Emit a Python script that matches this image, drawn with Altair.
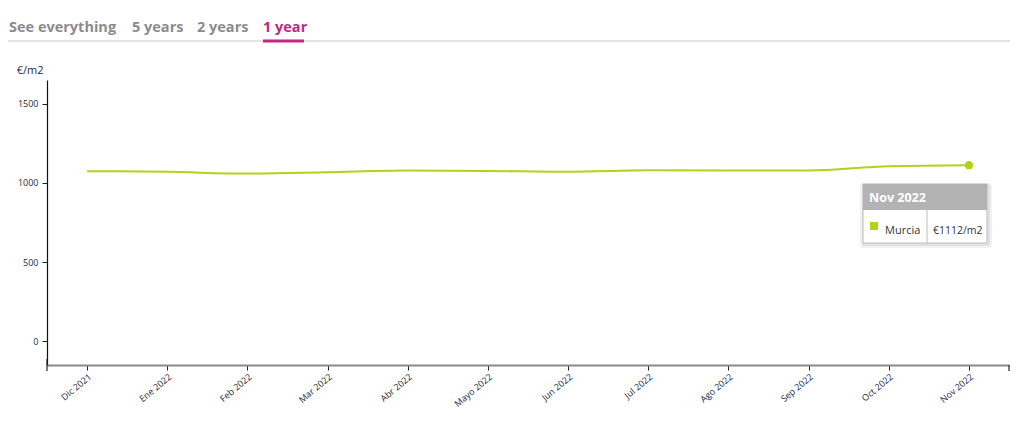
import altair as alt
import pandas as pd

months = ["Dic 2021", "Ene 2022", "Feb 2022", "Mar 2022", "Abr 2022", "Mayo 2022",
          "Jun 2022", "Jul 2022", "Ago 2022", "Sep 2022", "Oct 2022", "Nov 2022"]
prices = [1074, 1070, 1059, 1068, 1078, 1076, 1070, 1080, 1078, 1078, 1106, 1112]
region = "Murcia"
tabs = ["See everything", "5 years", "2 years", "1 year"]
tab_x = [-38, 85, 150, 216]
tab_colors = ["#8c8c8c", "#8c8c8c", "#8c8c8c", "#c2277f"]
y_ticks = [0, 500, 1000, 1500]

LINE = "#b5d21a"
FONT = "Open Sans"

df = pd.DataFrame({"month": months, "price": prices})
last = df.iloc[[-1]].copy()
last["label"] = "€" + last["price"].astype(str) + "/m2"
tabs_df = pd.DataFrame({"tab": tabs, "px": tab_x, "color": tab_colors})
one = pd.DataFrame({"k": [0]})

x_enc = alt.X("month:N", sort=months,
              scale=alt.Scale(type="point", padding=0.5),
              axis=alt.Axis(title=None, labelAngle=-40, labelFontSize=9, labelColor="#1c2a44",
                            labelFont=FONT, domainColor="#8a8a8a", domainWidth=2,
                            tickColor="#222222", tickSize=5, labelPadding=2, grid=False))
y_enc = alt.Y("price:Q", scale=alt.Scale(domain=[-150, 1650], nice=False, zero=False),
              axis=alt.Axis(title="€/m2", titleAngle=0, titleAnchor="end", titleAlign="right",
                            titleX=-4, titleY=-5, titleFontSize=11, titleFontWeight="normal",
                            titleColor="#1c2a44", titleFont=FONT, format="d",
                            values=y_ticks, labelFontSize=9, labelColor="#1c2a44", labelFont=FONT,
                            labelPadding=4, domainWidth=1.2,
                            domainColor="#111111", tickColor="#222222", tickSize=5, grid=False))

line = alt.Chart(df).mark_line(color=LINE, strokeWidth=2, interpolate="monotone").encode(x=x_enc, y=y_enc)
dot = alt.Chart(last).mark_circle(color=LINE, size=70, opacity=1).encode(
    x=alt.X("month:N", sort=months), y="price:Q")

# Tabs
tab_text = alt.Chart(tabs_df).mark_text(fontSize=14.5, fontWeight="bold", font=FONT,
                                        align="left", baseline="alphabetic").encode(
    x=alt.X("px:Q", scale=None), y=alt.value(-48), text="tab:N",
    color=alt.Color("color:N", scale=None))
tab_line = alt.Chart(one).mark_rule(color="#e3e3e3", strokeWidth=2).encode(
    x=alt.value(-39), x2=alt.value(963), y=alt.value(-39))
tab_under = alt.Chart(one).mark_rule(color="#c2277f", strokeWidth=3).encode(
    x=alt.value(216), x2=alt.value(257), y=alt.value(-39))

# Axis end ticks
end_l = alt.Chart(one).mark_rule(color="#222222", strokeWidth=1.2).encode(
    x=alt.value(0), y=alt.value(279), y2=alt.value(291))
end_r = alt.Chart(one).mark_rule(color="#222222", strokeWidth=1.2).encode(
    x=alt.value(962), y=alt.value(285), y2=alt.value(291))

# Tooltip box
shadow1 = alt.Chart(one).mark_rect(fill="#000000", fillOpacity=0.05, strokeWidth=0, cornerRadius=3).encode(
    x=alt.value(813), x2=alt.value(945), y=alt.value(103), y2=alt.value(168))
shadow2 = alt.Chart(one).mark_rect(fill="#000000", fillOpacity=0.07, strokeWidth=0, cornerRadius=2).encode(
    x=alt.value(815), x2=alt.value(943), y=alt.value(104), y2=alt.value(166))
box = alt.Chart(one).mark_rect(fill="#ffffff", stroke="#bdbdbd", strokeWidth=1).encode(
    x=alt.value(816), x2=alt.value(940), y=alt.value(104), y2=alt.value(163))
head = alt.Chart(one).mark_rect(fill="#b3b3b3").encode(
    x=alt.value(816), x2=alt.value(940), y=alt.value(104), y2=alt.value(130))
divider = alt.Chart(one).mark_rule(color="#bdbdbd").encode(
    x=alt.value(880), y=alt.value(130), y2=alt.value(163))
head_text = alt.Chart(last).mark_text(color="white", fontWeight="bold", fontSize=12.5, font=FONT,
                                      align="left", baseline="middle").encode(
    x=alt.value(822), y=alt.value(118), text="month:N")
sq = alt.Chart(last).mark_square(color=LINE, size=64, opacity=1).encode(
    x=alt.value(827), y=alt.value(146))
name_text = alt.Chart(last).mark_text(color="#333333", fontSize=11, font=FONT,
                                      align="left", baseline="middle").encode(
    x=alt.value(838), y=alt.value(151), text=alt.value(region))
val_text = alt.Chart(last).mark_text(color="#333333", fontSize=10.5, font=FONT,
                                     align="left", baseline="middle").encode(
    x=alt.value(886), y=alt.value(151), text="label:N")

chart = alt.layer(line, dot, tab_line, tab_under, tab_text, end_l, end_r,
                  shadow1, shadow2, box, head, divider, head_text, sq, name_text, val_text).properties(
    width=962, height=285,
    background="white",
    autosize=alt.AutoSizeParams(type="none"),
    padding={"left": 39, "top": 72, "right": 2, "bottom": 50},
).resolve_scale(color="independent").configure_view(strokeWidth=0)

chart.save("out.html", embed_options={"renderer": "svg", "actions": False})
